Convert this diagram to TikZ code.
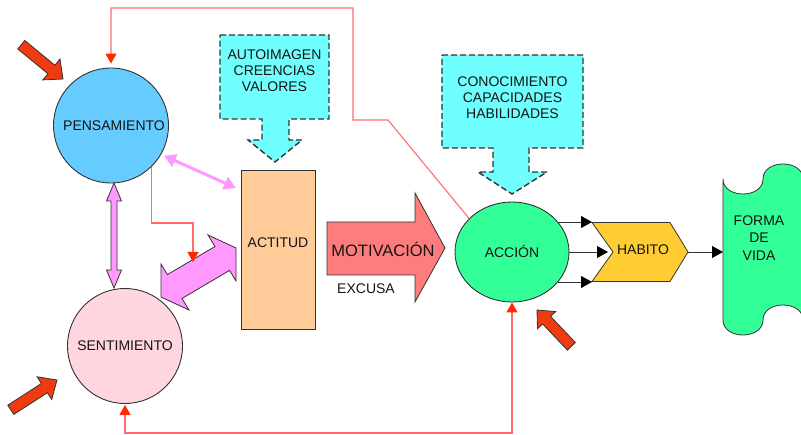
\documentclass[tikz,border=0pt]{standalone}
\usepackage{fontspec}
\setmainfont{Liberation Sans}
\usetikzlibrary{arrows.meta,shapes.geometric,calc}
\definecolor{cPens}{HTML}{66CCFF}
\definecolor{cSent}{HTML}{FFD5DF}
\definecolor{cAct}{HTML}{FFCC99}
\definecolor{cCyan}{HTML}{70FFFF}
\definecolor{cMot}{HTML}{FF7C7C}
\definecolor{cGreen}{HTML}{33FF99}
\definecolor{cHab}{HTML}{FFCC33}
\definecolor{cViolet}{HTML}{FF99FF}
\definecolor{cRedArrow}{HTML}{F03A10}
\definecolor{cRedLine}{HTML}{FF6B6B}
\definecolor{cRedHead}{HTML}{FF2A00}
\definecolor{cEdge}{HTML}{333333}
\definecolor{cText}{HTML}{141414}
\tikzset{redhead/.tip={Triangle[length=10pt,width=11pt,color=cRedHead,fill=cRedHead]}}
\begin{document}
\begin{tikzpicture}[x=1pt,y=-1pt,
  every node/.style={font=\fontsize{14}{16}\selectfont, text=cText, inner sep=0pt},
  every label/.style={font=\fontsize{14}{16}\selectfont, text=cText, inner sep=0pt},
  circ/.style={circle, draw=cEdge, line width=0.9pt, minimum size=115pt},
  boxstyle/.style={draw=cEdge, line width=0.9pt},
  callout/.style={draw=cEdge, dashed, dash pattern=on 6pt off 3pt, line width=1.4pt, fill=cCyan, line join=miter},
  blockarrow/.style={draw=cEdge, line width=0.8pt, line join=miter},
  redblock/.style={blockarrow, fill=cRedArrow},
  redline/.style={draw=cRedLine, line width=1.1pt},
  blk/.style={draw=cEdge, line width=0.9pt, -{Triangle[length=11pt,width=12pt,color=black,fill=black]}},
  violetline/.style={draw=cViolet, line width=3pt, {Triangle[length=12pt,width=13pt]}-{Triangle[length=12pt,width=13pt]}}]
\useasboundingbox (0,0) rectangle (801,435);

% callout boxes
\draw[callout] (220,35) -- (329,35) -- (329,119) -- (289,119) -- (289,140) -- (302,140) -- (275,162) -- (248,140) -- (262,140) -- (262,119) -- (220,119) -- cycle;
\node[align=center] (auto) at (274.5,71) {AUTOIMAGEN\\CREENCIAS\\VALORES};
\draw[callout] (442,55) -- (583,55) -- (583,148) -- (529,148) -- (529,172) -- (547,172) -- (512,194) -- (478,172) -- (493,172) -- (493,148) -- (442,148) -- cycle;
\node[align=center] (cono) at (512.5,98) {CONOCIMIENTO\\CAPACIDADES\\HABILIDADES};

% main nodes
\node[circ, fill=cPens] (pens) at (111,125.5) {\hspace*{6pt}PENSAMIENTO};
\node[circ, fill=cSent] (sent) at (125,346) {SENTIMIENTO};
\node[boxstyle, fill=cAct, minimum width=74pt, minimum height=159pt, label={[yshift=7pt]center:ACTITUD}] (act) at (278,249.5) {};
\node[ellipse, boxstyle, fill=cGreen, minimum width=114pt, minimum height=100pt] (acc) at (512,252) {ACCIÓN};

% motivacion arrow
\draw[blockarrow, fill=cMot] (327,222) -- (415,222) -- (415,193) -- (445,248) -- (415,302) -- (415,275) -- (327,275) -- cycle;
\node[font=\fontsize{16.5}{18}\selectfont] (mot) at (383,249) {MOTIVACIÓN};
\node (excusa) at (366,289) {EXCUSA};

% habito
\coordinate (hTL) at (592,222.5);
\coordinate (hN) at (613,252);
\coordinate (hBL) at (592,281.5);
\coordinate (hTip) at (688,252);
\draw[blockarrow, fill=cHab] (hTL) -- (670,222.5) -- (hTip) -- (670,281.5) -- (hBL) -- (hN) -- cycle;
\node (hab) at (643,250) {HABITO};

% forma de vida
\begin{scope}
\clip (0,0) rectangle (801,435);
\draw[blockarrow, fill=cGreen, line join=round] (723,320) -- (723,179)
  .. controls (723,199) and (763,199) .. (763,179)
  .. controls (763,159) and (803,159) .. (803,179)
  .. controls (803,199) and (843,199) .. (843,179)
  -- (843,320)
  .. controls (843,340) and (803,340) .. (803,320)
  .. controls (803,300) and (763,300) .. (763,320)
  .. controls (763,340) and (723,340) .. (723,320) -- cycle;
\end{scope}
\coordinate (formaL) at (723,252);
\node[align=center, font=\fontsize{14}{17.5}\selectfont] (forma) at (759,238) {FORMA\\DE\\VIDA};

% black arrows
\draw[blk] (acc.33) -- (acc.33 -| hTL);
\draw[blk, shorten >=5pt] (acc.east) -- (hN);
\draw[blk] (acc.-33) -- (acc.-33 -| hBL);
\draw[blk] (hTip) -- (formaL);

% vertical violet double arrow
\draw[blockarrow, fill=cViolet] (114,183) -- (121.5,201) -- (117,201) -- (117,270) -- (121.5,270) -- (114,288) -- (106.5,270) -- (111,270) -- (111,201) -- (106.5,201) -- cycle;

% violet line arrow
\coordinate (pa) at (236,188);
\draw[violetline, shorten <=3pt] (pens.-30) -- (pa);

% big violet double arrow
\begin{scope}[shift={(198.5,272.5)}]
\draw[blockarrow, fill=cViolet] (-37.5,24.5) -- (-37.5,-8.5) -- (-31.1,2.1) -- (16.5,-26) -- (9.5,-37.5) -- (37.5,-24.5) -- (37.5,8.5) -- (31.1,-2.1) -- (-16.5,26) -- (-9.5,37.5) -- cycle;
\end{scope}

% red feedback lines
\coordinate (r1a) at (388,120);
\coordinate (r1b) at (353,120);
\coordinate (r1c) at (353,8);
\draw[redline, -{redhead}, shorten >=4pt] (acc.142) -- (r1a) -- (r1b) -- (r1c) -| (pens.north);
\coordinate (r2c) at (193,223);
\coordinate (r2t) at (193,262);
\draw[redline, -{redhead}] (pens.-46) |- (r2c) -- (r2t);
\coordinate (r3c) at (125,433);
\draw[redline, {redhead}-{redhead}, shorten >=1pt] (acc.south) |- (r3c) -- (sent.south);

% red block arrows
\begin{scope}[shift={(63,79)}, rotate=-39.4]
\draw[redblock] (0,0) -- (-15,-13.5) -- (-15,-5.5) -- (-54,-5.5) -- (-54,5.5) -- (-15,5.5) -- (-15,13.5) -- cycle;
\end{scope}
\begin{scope}[shift={(57,380)}, rotate=32.8]
\draw[redblock] (0,0) -- (-15,-13.5) -- (-15,-5.5) -- (-55,-5.5) -- (-55,5.5) -- (-15,5.5) -- (-15,13.5) -- cycle;
\end{scope}
\begin{scope}[shift={(537,310)}, rotate=133.4]
\draw[redblock] (0,0) -- (-14,-12.5) -- (-14,-5.5) -- (-50,-5.5) -- (-50,5.5) -- (-14,5.5) -- (-14,12.5) -- cycle;
\end{scope}
\end{tikzpicture}
\end{document}
